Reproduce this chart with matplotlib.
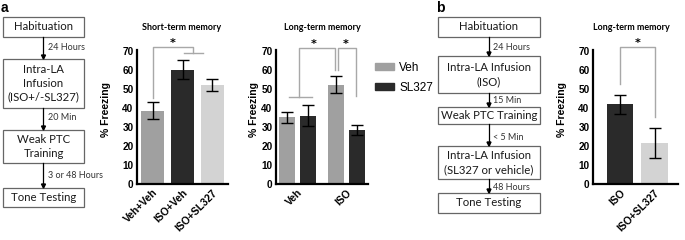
import matplotlib
matplotlib.use('Agg')
import matplotlib.pyplot as plt
from matplotlib.patches import Rectangle, Patch

# data
short_labels = ['Veh+Veh', 'ISO+Veh', 'ISO+SL327']
short_means = [38.5, 60, 52]
short_err = [4.5, 5, 3.3]

long_groups = ['Veh', 'ISO']
long_veh = [35, 52.3]
long_veh_err = [3, 4.5]
long_sl = [36, 28.5]
long_sl_err = [5.5, 2.5]

b_labels = ['ISO', 'ISO+SL327']
b_means = [42, 21.5]
b_err = [5, 8]

flow_a = ['Habituation', 'Intra-LA\nInfusion\n(ISO+/-SL327)', 'Weak PTC\nTraining', 'Tone Testing']
steps_a = ['24 Hours', '20 Min', '3 or 48 Hours']
flow_b = ['Habituation', 'Intra-LA Infusion\n(ISO)', 'Weak PTC Training',
          'Intra-LA Infusion\n(SL327 or vehicle)', 'Tone Testing']
steps_b = ['24 Hours', '15 Min', '< 5 Min', '48 Hours']

MID = '#a0a0a0'
DARK = '#2a2a2a'
LIGHT = '#d3d3d3'
BRK = '#a8a8a8'
W, H = 685, 240

fig = plt.figure(figsize=(6.85, 2.4), dpi=100)


def fx(x):
    return x / W


def fy(y):
    return 1 - y / H


def pax(x0, x1):
    return fig.add_axes([fx(x0), fy(184), fx(x1) - fx(x0), 134 / H])


def style(ax):
    for s in ['top', 'right']:
        ax.spines[s].set_visible(False)
    for s in ['left', 'bottom']:
        ax.spines[s].set_linewidth(1.6)
    ax.set_ylim(0, 70.5)
    ax.set_yticks(range(0, 71, 10))
    ax.tick_params(length=0, pad=2.5, labelsize=7.2)
    for t in ax.get_yticklabels():
        t.set_fontweight('bold')
        t.set_family('Liberation Sans')


def xlabels(ax, pos, labels):
    ax.set_xticks(pos)
    ax.set_xticklabels(labels, rotation=45, ha='right', rotation_mode='anchor',
                       fontsize=7.5, fontweight='bold', family='Liberation Sans')


def line(ax, xs, ys):
    ax.plot(xs, ys, color=BRK, lw=1, clip_on=False)


def star(ax, x, y):
    ax.text(x, y, '*', ha='center', va='bottom', fontsize=8, fontweight='bold', clip_on=False)


ekw = dict(ecolor='black', capsize=4.5, error_kw=dict(elinewidth=1, capthick=1))

# short-term memory
ax1 = pax(137, 228)
ax1.bar(range(3), short_means, width=0.77, yerr=short_err, color=[MID, DARK, LIGHT], **ekw)
ax1.set_xlim(-0.517, 2.517)
style(ax1)
xlabels(ax1, range(3), short_labels)
line(ax1, [0, 0, 1.35, 1.35], [45, 72, 72, 69])
line(ax1, [1.05, 1.7], [69, 69])
star(ax1, 0.68, 71.5)

# long-term memory
ax2 = pax(276, 368)
off = 0.214
xs = list(range(len(long_groups)))
ax2.bar([x - off for x in xs], long_veh, width=0.327, yerr=long_veh_err, color=MID, label='Veh', **ekw)
ax2.bar([x + off for x in xs], long_sl, width=0.327, yerr=long_sl_err, color=DARK, label='SL327', **ekw)
ax2.set_xlim(-0.439, 1.439)
style(ax2)
xlabels(ax2, xs, long_groups)
line(ax2, [-0.17, 0.29], [46, 46])
line(ax2, [0.04, 0.04, 0.765, 0.765], [46, 71.4, 71.4, 60])
line(ax2, [0.82, 0.82, 1.194, 1.194], [60, 71.4, 71.4, 46.5])
star(ax2, 0.32, 71)
star(ax2, 0.99, 71)
fig.legend(handles=[Patch(color=MID, label='Veh'), Patch(color=DARK, label='SL327')],
           loc='upper left', bbox_to_anchor=(fx(364), fy(51)), frameon=False,
           handlelength=1.6, handleheight=0.6, handletextpad=0.5, labelspacing=0.7,
           prop={'family': 'Liberation Sans', 'size': 8.5})

# panel b
ax3 = pax(593, 678)
ax3.bar(range(2), b_means, width=0.77, yerr=b_err, color=[DARK, LIGHT], **ekw)
ax3.set_xlim(-0.783, 1.681)
style(ax3)
xlabels(ax3, range(2), b_labels)
line(ax3, [0, 0, 1, 1], [52.6, 72, 72, 35.5])
star(ax3, 0.5, 71.5)

# titles and y labels
for x, y in [(182, 28), (322, 27), (631, 27)]:
    t = 'Short-term memory' if x < 200 else 'Long-term memory'
    fig.text(fx(x), fy(y), t, ha='center', va='center', fontsize=6.5,
             fontweight='bold', family='Lato')
for x in [106, 254, 562]:
    fig.text(fx(x), fy(110), '% Freezing', rotation=90, ha='center', va='center',
             fontsize=7.5, fontweight='bold', family='Liberation Sans')

fig.text(fx(1), fy(8), 'a', ha='left', va='center', fontsize=10, fontweight='bold', family='Liberation Sans')
fig.text(fx(436), fy(8), 'b', ha='left', va='center', fontsize=10, fontweight='bold', family='Liberation Sans')


def flow(x0, x1, boxes, steps, texts, labels):
    xc = (x0 + x1) / 2
    for (y0, y1), txt in zip(boxes, texts):
        fig.add_artist(Rectangle((fx(x0), fy(y1)), fx(x1) - fx(x0), (y1 - y0) / H,
                                 transform=fig.transFigure, fill=False, ec='#666666', lw=0.9))
        fig.text(fx(xc), fy((y0 + y1) / 2), txt, ha='center', va='center', fontsize=8.2,
                 family='Lato', linespacing=1.3, color='#1a1a1a')
    for i, lab in enumerate(labels):
        ya, yb = boxes[i][1], boxes[i + 1][0]
        fig.add_artist(plt.Line2D([fx(xc), fx(xc)], [fy(ya), fy(yb) + 0.004], color='black', lw=0.9))
        fig.add_artist(plt.Polygon([[fx(xc - 2), fy(yb - 4)], [fx(xc + 2), fy(yb - 4)], [fx(xc), fy(yb)]],
                                   closed=True, color='black', transform=fig.transFigure))
        fig.text(fx(xc + 4), fy(steps[i]), lab, ha='left', va='center', fontsize=6.5,
                 family='Lato', color='#333333')


flow(3, 84, [(17, 37), (59, 108), (130, 163), (188, 207)], [48, 117, 175], flow_a, steps_a)
flow(438, 540, [(17, 37), (56, 93), (107, 124), (146, 179), (193, 213)], [48, 100, 137, 187], flow_b, steps_b)

fig.savefig('out.png', dpi=100)
